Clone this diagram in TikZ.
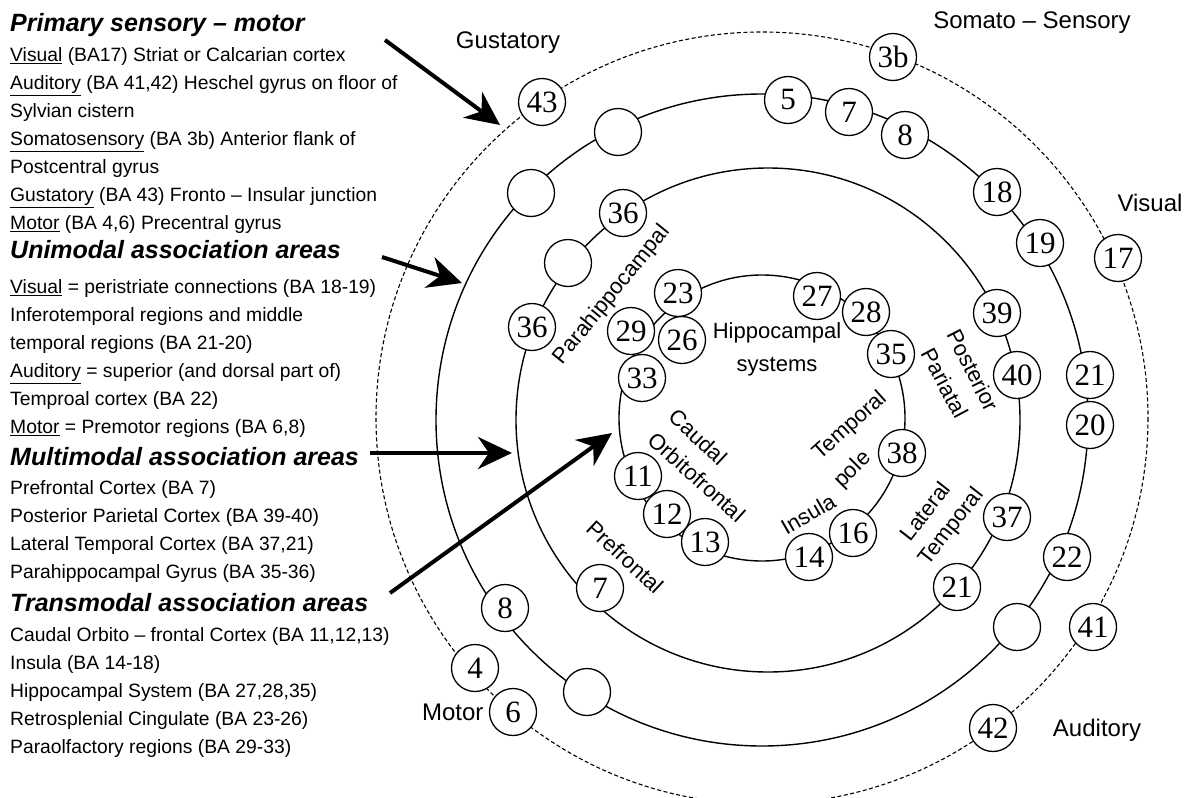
\documentclass[tikz,border=0pt]{standalone}
\usepackage{fontspec}
\setmainfont{Liberation Sans}
\newfontfamily\numfont{Liberation Serif}
\usetikzlibrary{arrows.meta}

\tikzset{
  ba/.style={circle, draw, line width=1.3pt, fill=white, minimum size=47pt,
    inner sep=0pt, font=\numfont\fontsize{31}{31}\selectfont},
  ring/.style={line width=1.4pt},
  outring/.style={line width=1.1pt, dash pattern=on 4pt off 2.5pt},
  bigarrow/.style={line width=4pt, -{Stealth[length=34pt, width=32pt, inset=11pt]}},
  legend/.style={anchor=base west, inner sep=0pt, font=\fontsize{19.3}{23}\selectfont},
  legendhead/.style={anchor=base west, inner sep=0pt,
    font=\fontsize{25}{30}\selectfont\bfseries\itshape},
  sense/.style={font=\fontsize{24}{28}\selectfont},
  lobe/.style={inner sep=0pt, font=\fontsize{22}{26}\selectfont}
}

\begin{document}
\begin{tikzpicture}[x=1pt, y=-1pt]
  \useasboundingbox (0,0) rectangle (1189,798);

  % ---- Legend ----
  \node[legendhead] (hprim) at (10,31.5) {Primary sensory – motor};
  \foreach \t [count=\i from 0] in {
      {\underline{Visual} (BA17) Striat or Calcarian cortex},
      {\underline{Auditory} (BA 41,42) Heschel gyrus on floor of},
      {Sylvian cistern},
      {\underline{Somatosensory} (BA 3b) Anterior flank of},
      {Postcentral gyrus},
      {\underline{Gustatory} (BA 43) Fronto – Insular junction},
      {\underline{Motor} (BA 4,6) Precentral gyrus}}
    \node[legend] (prim\i) at (10,61.5+28*\i) {\t};

  \node[legendhead] (huni) at (10,258.5) {Unimodal association areas};
  \foreach \t [count=\i from 0] in {
      {\underline{Visual} = peristriate connections (BA 18-19)},
      {Inferotemporal regions and middle},
      {temporal regions (BA 21-20)},
      {\underline{Auditory} = superior (and dorsal part of)},
      {Temproal cortex  (BA 22)},
      {\underline{Motor} = Premotor regions (BA 6,8)}}
    \node[legend] (uni\i) at (10,293.5+28*\i) {\t};

  \node[legendhead] (hmul) at (10,465.5) {Multimodal association areas};
  \foreach \t [count=\i from 0] in {
      {Prefrontal Cortex (BA 7)},
      {Posterior Parietal Cortex (BA 39-40)},
      {Lateral Temporal Cortex (BA 37,21)},
      {Parahippocampal Gyrus (BA 35-36)}}
    \node[legend] (mul\i) at (10,494.5+28*\i) {\t};

  \node[legendhead] (htra) at (10,611.5) {Transmodal association areas};
  \foreach \t [count=\i from 0] in {
      {Caudal Orbito – frontal Cortex (BA 11,12,13)},
      {Insula (BA 14-18)},
      {Hippocampal System (BA 27,28,35)},
      {Retrosplenial Cingulate (BA 23-26)},
      {Paraolfactory regions (BA 29-33)}}
    \node[legend] (tra\i) at (10,641.5+28*\i) {\t};

  % ---- Rings ----
  \coordinate (cin) at (762,418);
  \coordinate (cmid) at (768,420);
  \coordinate (cuni) at (762,420);
  \coordinate (cout) at (762,418);
  \draw[outring] (cout) circle[radius=386];
  \draw[ring] (cuni) circle[radius=326];
  \draw[ring] (cmid) circle[radius=252];
  \draw[ring] (cin) circle[radius=143];

  % Primary (dashed ring)
  \foreach \x/\y/\t [count=\k] in {542/102/43, 893/57/3b, 1118/258/17, 1093/627/41,
      993/728/42, 513/712/6, 475/668/4}
    \node[ba] (p\k) at (\x,\y) {\t};
  % Unimodal
  \foreach \x/\y/\t [count=\k] in {618/132/{}, 788/100/5, 849/112/7, 905/135/8,
      997/192/18, 1040/243/19, 1090/375/21, 1090/425/20, 1067/557/22, 1017/627/{},
      587/692/{}, 505/608/8, 531/193/{}}
    \node[ba] (u\k) at (\x,\y) {\t};
  % Multimodal
  \foreach \x/\y/\t [count=\k] in {623/213/36, 568/263/{}, 532/327/36, 600/588/7,
      957/587/21, 1007/517/37, 1017/375/40, 997/313/39}
    \node[ba] (m\k) at (\x,\y) {\t};
  % Transmodal
  \foreach \x/\y/\t [count=\k] in {678/293/23, 817/296/27, 866/312/28, 891/354/35,
      902/453/38, 853/533/16, 809/557/14, 705/542/13, 667/514/12, 638/476/11,
      642/378/33, 631/331/29, 682/340/26}
    \node[ba] (t\k) at (\x,\y) {\t};

  % ---- Ring labels ----
  \node[sense] (gust) at (508,43) {Gustatory};
  \node[sense] (soma) at (1032,23) {Somato – Sensory};
  \node[sense] (visl) at (1150,203) {Visual};
  \node[sense] (audl) at (1097,730) {Auditory};
  \node[sense, anchor=east] (motl) at (487,712) {Motor};

  \node[lobe, rotate=51] (parahip) at (612,295) {Parahippocampal};
  \node[lobe] (hipp) at (777,333) {Hippocampal};
  \node[lobe] (hipps) at (777,367) {systems};
  \node[lobe, rotate=-43] (caud) at (698,437) {Caudal};
  \node[lobe, rotate=-42] (orbf) at (697,477) {Orbitofrontal};
  \node[lobe, rotate=42] (tmp) at (850,426) {Temporal};
  \node[lobe, rotate=45] (pole) at (853,470) {pole};
  \node[lobe, rotate=30] (insl) at (808,514) {Insula};
  \node[lobe, rotate=-63] (post) at (973,370) {Posterior};
  \node[lobe, rotate=-62] (pari) at (945,383) {Pariatal};
  \node[lobe, rotate=52] (latl) at (925,511) {Lateral};
  \node[lobe, rotate=52] (latt) at (952,527) {Temporal};
  \node[lobe, rotate=-43] (pref) at (625,557) {Prefrontal};

  % ---- Arrows ----
  \coordinate (aprim) at (385,40);   \coordinate (bprim) at (500,125);
  \coordinate (auni) at (382,257);   \coordinate (buni) at (462,283);
  \coordinate (amul) at (370,453);   \coordinate (bmul) at (512,453);
  \coordinate (atra) at (390,593);   \coordinate (btra) at (612,433);
  \draw[bigarrow] (aprim) -- (bprim);
  \draw[bigarrow] (auni) -- (buni);
  \draw[bigarrow] (amul) -- (bmul);
  \draw[bigarrow] (atra) -- (btra);
\end{tikzpicture}
\end{document}
